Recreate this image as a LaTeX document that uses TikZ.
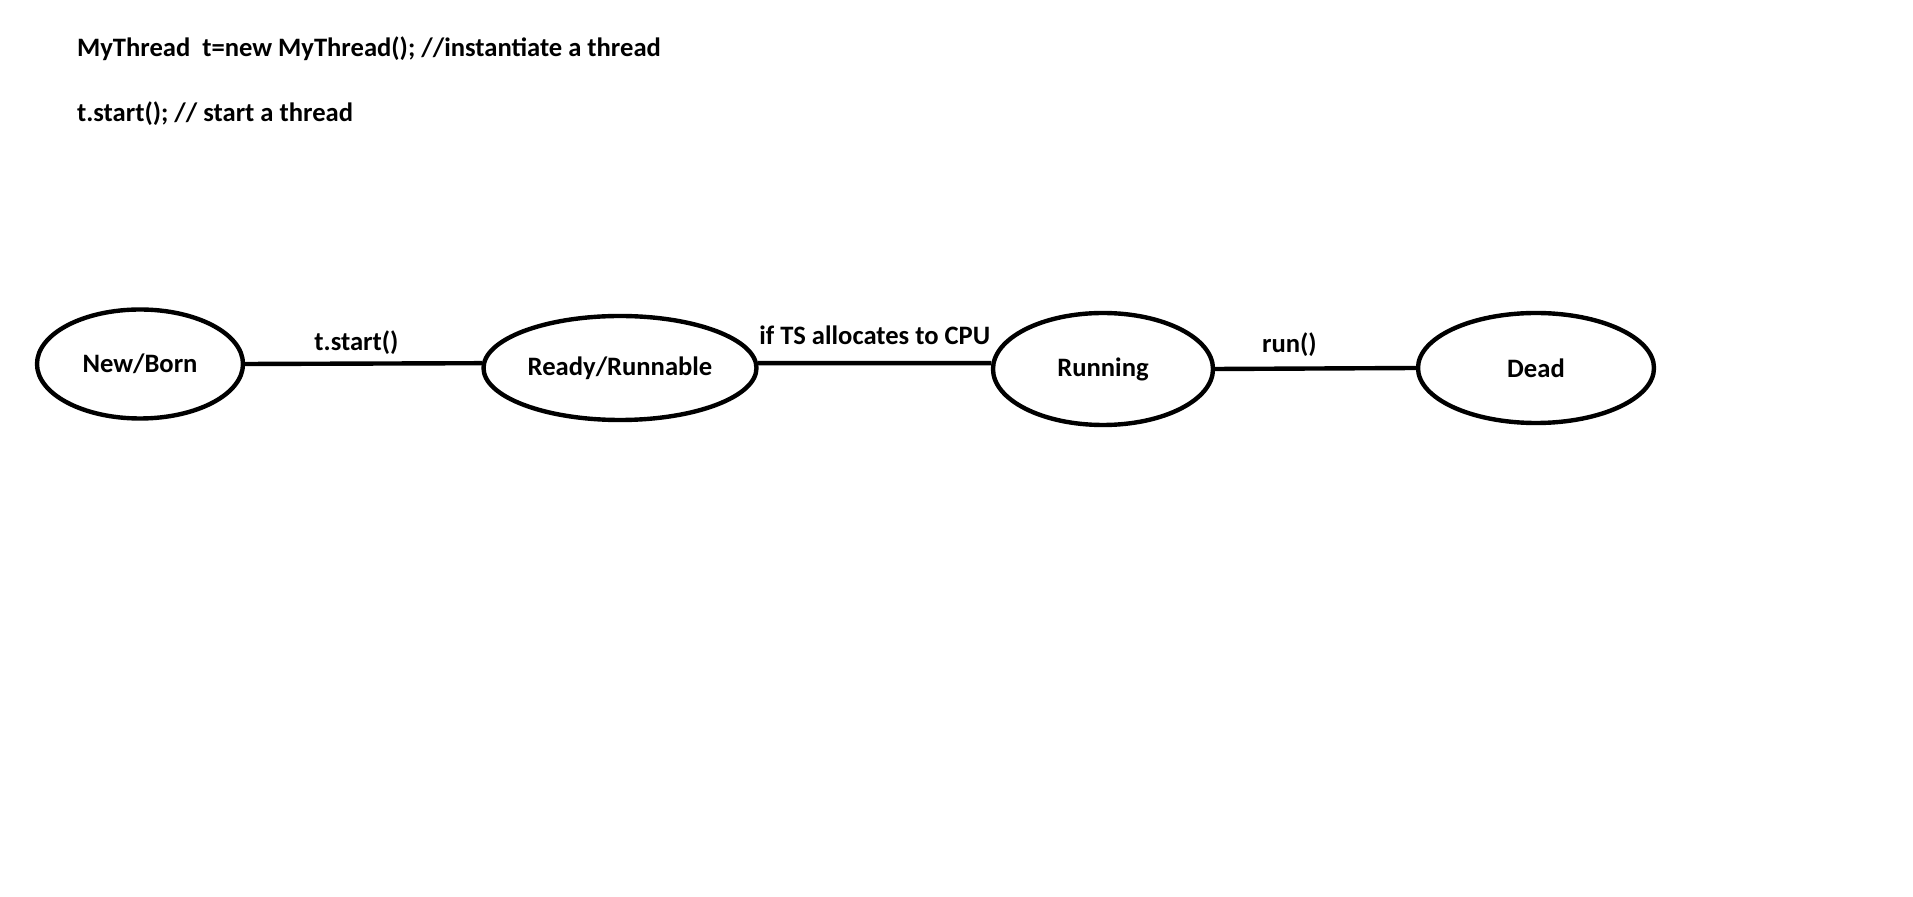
\documentclass[tikz,border=0pt]{standalone}
\usepackage{fontspec}
\setmainfont{Carlito}
\usetikzlibrary{shapes.geometric}
\begin{document}
\begin{tikzpicture}[x=0.5pt,y=-0.5pt,
		state/.style={draw, ellipse, line width=2.2pt, inner sep=0pt, font=\fontsize{13.3}{16}\selectfont\bfseries},
		edge/.style={line width=2.2pt},
		lbl/.style={font=\fontsize{13.3}{16}\selectfont\bfseries}]
		\useasboundingbox (0,0) rectangle (1913,897);
		
		\node[lbl, anchor=west] (decl) at (70,49) {MyThread\ \ t=new MyThread(); //instantiate a thread};
		\node[lbl, anchor=west] (call) at (70,114) {t.start(); // start a thread};
		
		\node[state, minimum width=103pt, minimum height=54.5pt] (new) at (140,364) {New/Born};
		\node[state, minimum width=136.5pt, minimum height=52pt] (ready) at (620,368) {Ready/Runnable};
		\node[state, minimum width=110pt, minimum height=56pt] (run) at (1103,369) {Running};
		\node[state, minimum width=118pt, minimum height=55pt] (dead) at (1536,368) {Dead};
		
		\draw [edge] (new.east) -- (ready.178) node[lbl, pos=0.47, above=0pt] {t.start()};
		\draw [edge] (ready.2) -- (run.177) node[lbl, midway, above=5pt] {if TS allocates to CPU};
		\draw [edge] (run.east) -- (dead.west) node[lbl, pos=0.37, above=1.5pt] {run()};
	\end{tikzpicture}
\end{document}
